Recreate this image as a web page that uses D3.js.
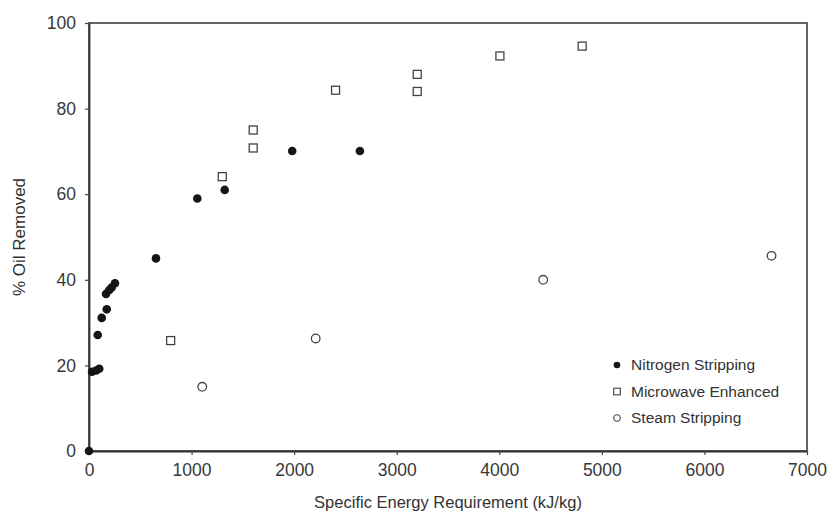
<!DOCTYPE html>
<html>
<head>
<meta charset="utf-8">
<script src="https://cdn.jsdelivr.net/npm/d3@7"></script>
<style>
  body { margin: 0; background: #fff; }
  svg { font-family: "Liberation Sans", Arial, sans-serif; }
</style>
</head>
<body>
<div id="plot"></div>
<script>
// values: energy (kJ/kg) and % oil removed
const nitrogenX = [0, 30, 70, 100, 85, 124, 173, 166, 198, 221, 253, 653, 1056, 1323, 1981, 2641];
const nitrogenY = [0, 18.5, 18.8, 19.2, 27.1, 31.1, 33.1, 36.7, 37.6, 38.2, 39.2, 45.0, 59.0, 61.0, 70.1, 70.1];

const microwaveX = [796, 1299, 1601, 1601, 2404, 3200, 3200, 4006, 4808];
const microwaveY = [25.8, 64.1, 75.0, 70.8, 84.3, 88.0, 84.0, 92.3, 94.6];

const steamX = [1104, 2210, 4428, 6654];
const steamY = [15.0, 26.3, 40.0, 45.6];

const xTicks = [0, 1000, 2000, 3000, 4000, 5000, 6000, 7000];
const yTicks = [0, 20, 40, 60, 80, 100];

const legendLabels = ["Nitrogen Stripping", "Microwave Enhanced", "Steam Stripping"];

const width = 828, height = 515;
const margin = {top: 23, right: 21, bottom: 64, left: 89};
const innerW = width - margin.left - margin.right;
const innerH = height - margin.top - margin.bottom;

const svg = d3.select("#plot").append("svg")
  .attr("width", width)
  .attr("height", height);

const g = svg.append("g")
  .attr("transform", `translate(${margin.left},${margin.top})`);

const x = d3.scaleLinear().domain([0, 7000]).range([0, innerW]);
const y = d3.scaleLinear().domain([0, 100]).range([innerH, 0]);

// frame (top and right sides)
g.append("rect")
  .attr("width", innerW)
  .attr("height", innerH)
  .attr("fill", "none")
  .attr("stroke", "#555")
  .attr("stroke-width", 1.8);

const xAxis = g.append("g")
  .attr("transform", `translate(0,${innerH})`)
  .call(d3.axisBottom(x).tickValues(xTicks).tickFormat(d3.format("d"))
    .tickSize(4).tickPadding(9).tickSizeOuter(0));

const yAxis = g.append("g")
  .call(d3.axisLeft(y).tickValues(yTicks).tickFormat(d3.format("d"))
    .tickSize(4).tickPadding(9).tickSizeOuter(0));

[xAxis, yAxis].forEach(a => {
  a.select(".domain").attr("stroke", "#333").attr("stroke-width", 1.8);
  a.selectAll(".tick line").attr("stroke", "#444").attr("stroke-width", 1.2);
  a.selectAll(".tick text").attr("font-size", 17.5).attr("fill", "#383838");
});

// axis titles
svg.append("text")
  .attr("x", margin.left + innerW / 2)
  .attr("y", 508)
  .attr("text-anchor", "middle")
  .attr("font-size", 16.5)
  .attr("fill", "#333")
  .text("Specific Energy Requirement (kJ/kg)");

svg.append("text")
  .attr("transform", `translate(25,${margin.top + innerH / 2}) rotate(-90)`)
  .attr("text-anchor", "middle")
  .attr("font-size", 17)
  .attr("fill", "#333")
  .text("% Oil Removed");

// nitrogen stripping: filled circles
g.selectAll(".nitro")
  .data(nitrogenX.map((d, i) => [d, nitrogenY[i]]))
  .enter().append("circle")
  .attr("class", "nitro")
  .attr("cx", d => x(d[0]))
  .attr("cy", d => y(d[1]))
  .attr("r", 4.3)
  .attr("fill", "#151515");

// microwave enhanced: open squares
const sq = 8;
g.selectAll(".micro")
  .data(microwaveX.map((d, i) => [d, microwaveY[i]]))
  .enter().append("rect")
  .attr("class", "micro")
  .attr("x", d => x(d[0]) - sq / 2)
  .attr("y", d => y(d[1]) - sq / 2)
  .attr("width", sq)
  .attr("height", sq)
  .attr("fill", "#fff")
  .attr("stroke", "#444")
  .attr("stroke-width", 1.3);

// steam stripping: open circles
g.selectAll(".steam")
  .data(steamX.map((d, i) => [d, steamY[i]]))
  .enter().append("circle")
  .attr("class", "steam")
  .attr("cx", d => x(d[0]))
  .attr("cy", d => y(d[1]))
  .attr("r", 4.3)
  .attr("fill", "#fff")
  .attr("stroke", "#444")
  .attr("stroke-width", 1.3);

// legend
const legend = svg.append("g").attr("transform", "translate(617,365)");
legendLabels.forEach((label, i) => {
  const row = legend.append("g").attr("transform", `translate(0,${i * 26.5})`);
  if (i === 0) {
    row.append("circle").attr("r", 3.3).attr("fill", "#151515");
  } else if (i === 1) {
    row.append("rect").attr("x", -3.3).attr("y", -3.3).attr("width", 6.6).attr("height", 6.6)
      .attr("fill", "#fff").attr("stroke", "#444").attr("stroke-width", 1.1);
  } else {
    row.append("circle").attr("r", 3.3).attr("fill", "#fff")
      .attr("stroke", "#444").attr("stroke-width", 1.1);
  }
  row.append("text")
    .attr("x", 14)
    .attr("dy", "0.35em")
    .attr("font-size", 15.5)
    .attr("fill", "#333")
    .text(label);
});
</script>
</body>
</html>
